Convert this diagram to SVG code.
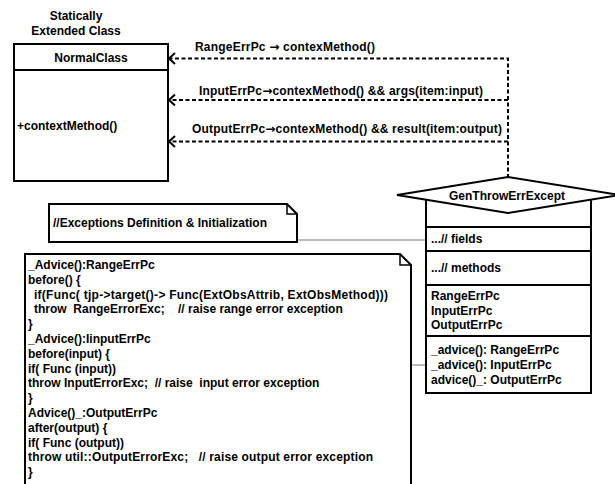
<svg xmlns="http://www.w3.org/2000/svg" width="615" height="484" viewBox="0 0 615 484">
<defs>
<style>
text{font-family:"Liberation Sans",Arial,sans-serif;font-size:12px;font-weight:bold;fill:#000;white-space:pre}
.arr{font-family:"DejaVu Sans",sans-serif;font-weight:bold}
.box{fill:#fff;stroke:#000;stroke-width:2}
.dash{fill:none;stroke:#000;stroke-width:2;stroke-dasharray:4 2.5}
.head{fill:none;stroke:#000;stroke-width:2}
.thin{fill:none;stroke:#777;stroke-width:1}
.mid{text-anchor:middle}
</style>
</defs>
<rect width="615" height="484" fill="#fff"/>

<g id="connectors">
<polyline class="dash" points="508,178 508,58.5 170,58.5"/>
<line class="dash" x1="508" y1="100" x2="170" y2="100"/>
<line class="dash" x1="508" y1="141.5" x2="170" y2="141.5"/>
<polyline class="head" points="175,53 169,58.5 175,64"/>
<polyline class="head" points="175,94.5 169,100 175,105.5"/>
<polyline class="head" points="175,136 169,141.5 175,147"/>
<line class="thin" x1="297" y1="240" x2="426" y2="240"/>
<line class="thin" x1="411" y1="365" x2="426" y2="365"/>
<text x="195" y="51" textLength="180" lengthAdjust="spacing">RangeErrPc <tspan class="arr">→</tspan> contexMethod()</text>
<text x="199" y="95" textLength="284" lengthAdjust="spacing">InputErrPc<tspan class="arr">→</tspan>contexMethod() &amp;&amp; args(item:input)</text>
<text x="192" y="133" textLength="310" lengthAdjust="spacing">OutputErrPc<tspan class="arr">→</tspan>contexMethod() &amp;&amp; result(item:output)</text>
</g>

<g id="normalclass">
<text class="mid" x="76" y="20">Statically</text>
<text class="mid" x="76" y="35">Extended Class</text>
<rect class="box" x="14" y="44" width="154" height="137"/>
<line x1="14" y1="70" x2="168" y2="70" stroke="#000" stroke-width="2"/>
<text class="mid" x="91" y="61.5">NormalClass</text>
<text x="17" y="130">+contextMethod()</text>
</g>

<g id="genthrowerrexcept">
<rect class="box" x="426" y="195" width="165" height="198"/>
<polygon class="box" points="397,195 508,177 619,195 508,213"/>
<text class="mid" x="507" y="199.5">GenThrowErrExcept</text>
<line x1="426" y1="227" x2="591" y2="227" stroke="#000" stroke-width="2"/>
<line x1="426" y1="251" x2="591" y2="251" stroke="#000" stroke-width="2"/>
<line x1="426" y1="285" x2="591" y2="285" stroke="#000" stroke-width="2"/>
<line x1="426" y1="336" x2="591" y2="336" stroke="#000" stroke-width="2"/>
<text x="431" y="243">...// fields</text>
<text x="431" y="272">...// methods</text>
<text x="431" y="300">RangeErrPc</text>
<text x="431" y="314.5">InputErrPc</text>
<text x="431" y="329">OutputErrPc</text>
<text x="431" y="354">_advice(): RangeErrPc</text>
<text x="431" y="369">_advice(): InputErrPc</text>
<text x="431" y="384">advice()_: OutputErrPc</text>
</g>

<g id="note-exceptions">
<path class="box" d="M49,204 H287 L297,214 V242 H49 Z"/>
<path d="M287,204 V214 H297" fill="none" stroke="#000" stroke-width="1.5"/>
<text x="53" y="227">//Exceptions Definition &amp; Initialization</text>
</g>

<g id="note-advice">
<path class="box" d="M25,254 H400 L411,265 V490 H25 Z"/>
<path d="M400,254 V265 H411" fill="none" stroke="#000" stroke-width="1.5"/>
<text x="28" y="269">_Advice():RangeErrPc</text>
<text x="28" y="283.8">before() {</text>
<text x="34" y="298.6" textLength="354" lengthAdjust="spacing">if(Func( tjp-&gt;target()-&gt; Func(ExtObsAttrib, ExtObsMethod)))</text>
<text x="34" y="313.4">throw  RangeErrorExc;    // raise range error exception</text>
<text x="28" y="328.2">}</text>
<text x="28" y="343">_Advice():IinputErrPc</text>
<text x="28" y="357.8">before(input) {</text>
<text x="28" y="372.6">if( Func (input))</text>
<text x="28" y="387.4">throw InputErrorExc;  // raise  input error exception</text>
<text x="28" y="402.2">}</text>
<text x="28" y="417">Advice()_:OutputErrPc</text>
<text x="28" y="431.8">after(output) {</text>
<text x="28" y="446.6">if( Func (output))</text>
<text x="28" y="461.4" textLength="345" lengthAdjust="spacing">throw util::OutputErrorExc;   // raise output error exception</text>
<text x="28" y="476.2">}</text>
</g>
</svg>
